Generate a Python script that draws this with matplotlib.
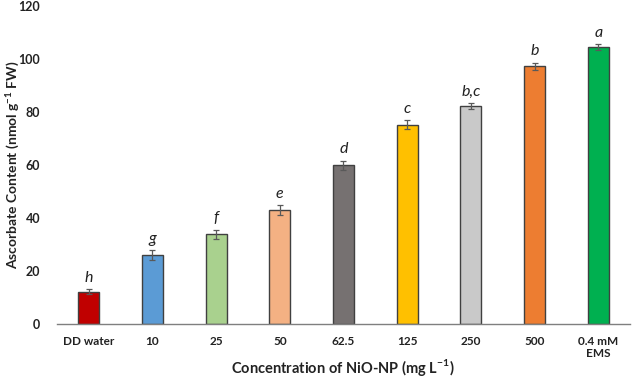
import matplotlib
matplotlib.use("Agg")
import matplotlib.pyplot as plt

categories = ["DD water", "10", "25", "50", "62.5", "125", "250", "500", "0.4 mM\nEMS"]
values = [12.2, 26.0, 33.8, 43.0, 59.8, 75.1, 82.3, 97.2, 104.4]
errors = [0.9, 1.8, 1.8, 1.9, 1.8, 1.7, 1.2, 1.4, 1.1]
letters = ["h", "g", "f", "e", "d", "c", "b,c", "b", "a"]
colors = ["#C00000", "#5B9BD5", "#A9D18E", "#F4B183", "#767171",
          "#FFC000", "#C9C9C9", "#ED7D31", "#00B050"]

plt.rcParams['font.family'] = ['Lato', 'DejaVu Sans']

fig = plt.figure(figsize=(6.32, 3.88), dpi=100)
ax = fig.add_axes([0.090, 0.165, 0.907, 0.820])

x = list(range(len(categories)))
ax.bar(x, values, width=0.33, color=colors, edgecolor="#404040", linewidth=1.0,
       yerr=errors, error_kw=dict(ecolor="#595959", elinewidth=0.9, capsize=2.5, capthick=0.9),
       zorder=2)

for xi, v, e, l in zip(x, values, errors, letters):
    ax.annotate(l, (xi, v + e), xytext=(0, 3), textcoords="offset points",
                ha="center", va="bottom", fontsize=11.5, fontstyle="italic",
                color="#222222")

ax.set_xlim(-0.5, len(categories) - 0.5)
ax.set_ylim(0, 120)
ax.set_yticks([0, 20, 40, 60, 80, 100, 120])
ax.set_xticks(x)
ax.set_xticklabels(categories, fontsize=8.5, fontweight="bold", linespacing=1.1)
for t in ax.get_yticklabels():
    t.set_fontsize(9)
    t.set_fontweight("bold")
ax.tick_params(axis="both", length=0, colors="#222222")
ax.tick_params(axis="x", pad=9)
ax.tick_params(axis="y", pad=12)

for s in ["top", "right", "left"]:
    ax.spines[s].set_visible(False)
ax.spines["bottom"].set_color("#7f7f7f")
ax.spines["bottom"].set_linewidth(1.0)

fig.text(0.019, 0.575, "Ascorbate Content (nmol g$^{\\mathregular{-1}}$ FW)", fontsize=10,
         fontweight="bold", color="#222222", rotation=90, ha="center", va="center")
fig.text(0.543, 0.054, "Concentration of NiO-NP (mg L$^{\\mathregular{-1}}$)", fontsize=10.5,
         fontweight="bold", color="#222222", ha="center", va="center")

fig.savefig("out.png", dpi=100)
